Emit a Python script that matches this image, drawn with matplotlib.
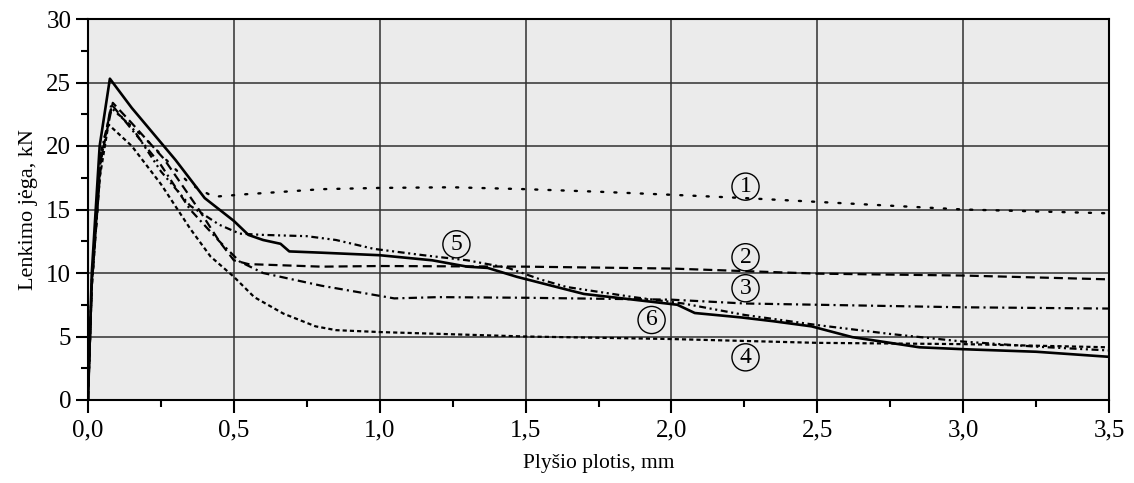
import matplotlib
matplotlib.use("Agg")
import matplotlib.pyplot as plt
from matplotlib.ticker import MultipleLocator, FuncFormatter

plt.rcParams['font.family'] = ['Liberation Serif', 'DejaVu Serif']
plt.rcParams['lines.scale_dashes'] = False

# Curve 1 (dotted)
x1 = [0, 0.013, 0.04, 0.08, 0.2, 0.35, 0.43, 0.54, 0.64, 0.8, 1.0, 1.25, 1.5, 1.75, 2.06, 2.25, 2.5, 2.75, 3.0, 3.25, 3.5]
y1 = [0, 9.5, 19.0, 23.0, 20.5, 17.0, 16.0, 16.2, 16.35, 16.6, 16.7, 16.75, 16.6, 16.4, 16.1, 15.9, 15.6, 15.3, 15.0, 14.85, 14.7]
# Curve 2 (dashed)
x2 = [0, 0.013, 0.045, 0.085, 0.15, 0.26, 0.38, 0.45, 0.5, 0.55, 0.8, 1.0, 1.5, 2.0, 2.5, 3.0, 3.5]
y2 = [0, 9.0, 19.0, 23.4, 21.8, 19.0, 15.0, 12.5, 11.0, 10.7, 10.5, 10.55, 10.5, 10.35, 9.95, 9.8, 9.5]
# Curve 3 (dash-dot)
x3 = [0, 0.013, 0.045, 0.08, 0.15, 0.25, 0.35, 0.45, 0.52, 0.6, 0.7, 0.8, 0.95, 1.05, 1.2, 1.5, 2.0, 2.25, 2.5, 3.0, 3.5]
y3 = [0, 9.0, 19.0, 23.3, 21.3, 18.5, 15.0, 12.5, 10.9, 10.0, 9.5, 9.0, 8.4, 8.0, 8.1, 8.05, 7.9, 7.6, 7.5, 7.3, 7.2]
# Curve 4 (short dashes)
x4 = [0, 0.013, 0.04, 0.07, 0.15, 0.25, 0.35, 0.42, 0.5, 0.57, 0.67, 0.78, 0.85, 1.0, 1.5, 2.0, 2.5, 3.0, 3.5]
y4 = [0, 9.0, 17.5, 21.7, 20.0, 17.0, 13.5, 11.3, 9.7, 8.1, 6.8, 5.8, 5.5, 5.35, 5.0, 4.8, 4.5, 4.4, 4.15]
# Curve 5 (dash-dot-dot)
x5 = [0, 0.013, 0.045, 0.08, 0.15, 0.25, 0.35, 0.45, 0.52, 0.6, 0.75, 0.85, 0.98, 1.15, 1.3, 1.44, 1.55, 1.64, 1.87, 2.04, 2.25, 2.5, 2.75, 3.0, 3.25, 3.5]
y5 = [0, 9.0, 19.5, 23.0, 21.5, 18.0, 15.3, 13.8, 13.1, 13.0, 12.9, 12.6, 11.9, 11.4, 11.0, 10.4, 9.5, 8.9, 8.1, 7.6, 6.7, 5.9, 5.2, 4.6, 4.2, 3.9]
# Curve 6 (solid)
x6 = [0, 0.013, 0.04, 0.075, 0.15, 0.3, 0.4, 0.5, 0.55, 0.6, 0.66, 0.69, 0.8, 1.0, 1.18, 1.3, 1.37, 1.47, 1.64, 1.70, 1.87, 2.02, 2.08, 2.24, 2.35, 2.48, 2.62, 2.75, 2.85, 3.0, 3.25, 3.5]
y6 = [0, 10.0, 20.0, 25.3, 23.0, 18.9, 15.9, 14.1, 13.0, 12.6, 12.3, 11.7, 11.6, 11.4, 11.0, 10.5, 10.4, 9.7, 8.7, 8.35, 7.9, 7.5, 6.85, 6.5, 6.2, 5.8, 4.95, 4.5, 4.15, 4.0, 3.8, 3.4]

label_text = ['1', '2', '3', '4', '5', '6']
label_x = [2.254, 2.254, 2.254, 2.254, 1.263, 1.932]
label_y = [16.8, 11.24, 8.8, 3.36, 12.26, 6.3]

xticks = [0.0, 0.5, 1.0, 1.5, 2.0, 2.5, 3.0, 3.5]
yticks = [0, 5, 10, 15, 20, 25, 30]

fig = plt.figure(figsize=(11.34, 4.83), dpi=100)
ax = fig.add_axes([88/1134, 1 - 400/483, (1109 - 88)/1134, (400 - 19)/483])
ax.set_facecolor('#ebebeb')

ax.plot(x1, y1, color='black', lw=1.7, linestyle=(0, (1.5, 8.0)), dash_capstyle='round')
ax.plot(x2, y2, color='black', lw=1.6, linestyle=(0, (6.5, 3.6)))
ax.plot(x3, y3, color='black', lw=1.6, linestyle=(0, (6.0, 3.0, 1.5, 3.0)))
ax.plot(x4, y4, color='black', lw=1.6, linestyle=(0, (3.0, 2.2)))
ax.plot(x5, y5, color='black', lw=1.6, linestyle=(0, (5.0, 2.6, 1.5, 2.6, 1.5, 2.6)))
ax.plot(x6, y6, color='black', lw=1.9, linestyle='-')

for t, lx, ly in zip(label_text, label_x, label_y):
    ax.text(lx, ly, t, fontsize=17, ha='center', va='center',
            bbox=dict(boxstyle='circle,pad=0.13', fc='none', ec='black', lw=1.0))

ax.set_xlim(0, 3.5)
ax.set_ylim(0, 30)
ax.set_xticks(xticks)
ax.set_yticks(yticks)
ax.xaxis.set_minor_locator(MultipleLocator(0.25))
ax.yaxis.set_minor_locator(MultipleLocator(2.5))
ax.xaxis.set_major_formatter(FuncFormatter(lambda v, p: f"{v:.1f}".replace('.', ',')))
ax.yaxis.set_major_formatter(FuncFormatter(lambda v, p: f"{int(round(v))}"))
ax.tick_params(axis='both', which='major', direction='out', length=9, width=1.5, labelsize=18)
ax.tick_params(axis='both', which='minor', direction='out', length=5, width=1.5)
ax.tick_params(axis='x', which='major', pad=5)
ax.tick_params(axis='y', which='major', pad=3)
ax.grid(True, which='major', color='#303030', lw=1.1)
ax.set_axisbelow(True)
for s in ax.spines.values():
    s.set_linewidth(1.5)
    s.set_color('black')

ax.set_xlabel('Plyšio plotis, mm', fontsize=15.5, labelpad=9)
ax.set_ylabel('Lenkimo jėga, kN', fontsize=16, labelpad=6)

fig.savefig('out.png', dpi=100)
